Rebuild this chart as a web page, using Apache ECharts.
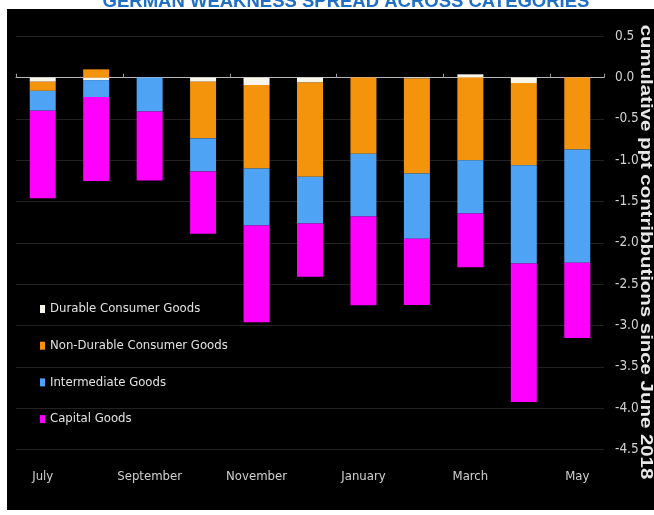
<!DOCTYPE html>
<html>
<head>
<meta charset="utf-8">
<script src="https://cdn.jsdelivr.net/npm/echarts@6/dist/echarts.min.js"></script>
<style>
html,body{margin:0;padding:0;background:#fff;}
#chart{width:654px;height:515px;}
</style>
</head>
<body>
<div id="chart"></div>
<script>
const categories = ['July','August','September','October','November','December','January','February','March','April','May'];
const durable = [-0.05, -0.03, 0, -0.05, -0.09, -0.06, 0, -0.01, 0.04, -0.065, 0];
const nonDurable = [-0.11, 0.10, 0, -0.685, -1.01, -1.14, -0.92, -1.15, -1.00, -0.995, -0.87];
const intermediate = [-0.24, -0.205, -0.41, -0.40, -0.69, -0.565, -0.76, -0.79, -0.645, -1.19, -1.37];
const capital = [-1.06, -1.015, -0.835, -0.755, -1.17, -0.645, -1.075, -0.80, -0.65, -1.675, -0.91];
const seriesNames = ['Durable Consumer Goods','Non-Durable Consumer Goods','Intermediate Goods','Capital Goods'];
const colors = ['#f7f5ec','#f4930c','#4fa3f4','#ff00ff'];
const titleText = 'GERMAN WEAKNESS SPREAD ACROSS CATEGORIES';
const yTitle = 'cumulative ppt contribbutions since June 2018';

const FONT = '"DejaVu Sans Condensed","Liberation Sans Narrow","Liberation Sans",sans-serif';
const chart = echarts.init(document.getElementById('chart'), null, {renderer:'canvas'});
const dataSets = [durable, nonDurable, intermediate, capital];

chart.setOption({
  backgroundColor: '#ffffff',
  animation: false,
  graphic: [
    {type:'text', x:346, y:11, z:0, style:{text:titleText, fill:'#1f6fc5', font:'bold 18.5px "Liberation Sans",Arial,sans-serif', align:'center', verticalAlign:'bottom'}},
    {type:'rect', shape:{x:7, y:9, width:647, height:501}, style:{fill:'#000000'}, z:-10, silent:true},
    {type:'text', x:646, y:252, rotation:-Math.PI/2, scaleX:1.2, z:10,
     style:{text:yTitle, fill:'#e8e8e8', font:'bold 17px "Liberation Sans",Arial,sans-serif', align:'center', verticalAlign:'middle'}}
  ],
  legend: {
    orient:'vertical', left:35, top:296,
    itemWidth:5, itemHeight:8, itemGap:20.7, icon:'rect',
    textStyle:{color:'#e2e2e2', fontFamily:FONT, fontSize:13, lineHeight:16},
    data: seriesNames
  },
  grid: {left:16, right:50, top:36.3, bottom:65.5, containLabel:false},
  xAxis: [
    {type:'category', data:categories, position:'bottom',
     axisLine:{show:false, onZero:false}, axisTick:{show:false},
     axisLabel:{interval:1, color:'#d0d0d0', fontFamily:FONT, fontSize:13, margin:21}},
    {type:'category', data:categories, position:'bottom',
     axisLine:{show:true, onZero:true, lineStyle:{color:'#b8b8b8', width:1}},
     axisTick:{show:true, inside:true, length:4, lineStyle:{color:'#9a9a9a'}},
     axisLabel:{show:false}, splitLine:{show:false}}
  ],
  yAxis: {
    type:'value', position:'right', min:-4.5, max:0.5, interval:0.5,
    axisLine:{show:false}, axisTick:{show:false},
    splitLine:{show:true, lineStyle:{color:'#222222', width:1}},
    axisLabel:{color:'#d2d2d2', fontFamily:FONT, fontSize:13.5, margin:11, align:'left',
      formatter: v => v.toFixed(1)}
  },
  series: dataSets.map((d, i) => ({
    name: seriesNames[i], type:'bar', stack:'total', xAxisIndex:0,
    barWidth:26, data:d, itemStyle:{color:colors[i]}, z:2
  }))
});
</script>
</body>
</html>
